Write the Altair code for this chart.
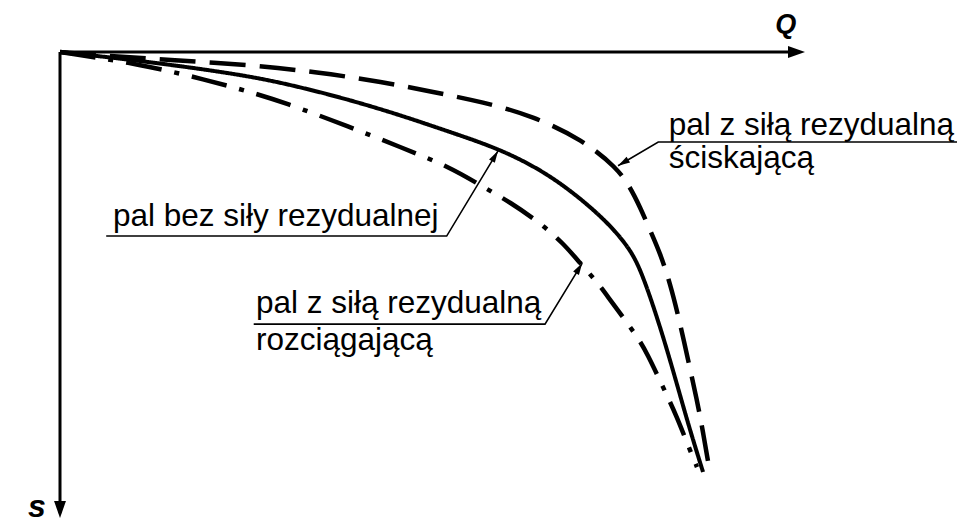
import altair as alt
import pandas as pd

# ---------------- data (chart units: Q horizontal, s vertical/downward) ----------------
solid_Q = [0, 6.31, 15.17, 25.50, 32.21, 38.93, 45.64, 52.35, 59.06, 65.10, 69.80, 73.42,
           76.11, 77.85, 80.27, 81.88, 83.22, 84.56, 86.31]
solid_s = [0, 1.07, 2.79, 5.15, 7.51, 10.30, 13.52, 17.17, 20.82, 25.75, 31.33, 36.48,
           41.42, 46.14, 57.51, 66.09, 73.61, 81.12, 90.13]

dashed_Q = [0, 6.31, 15.17, 25.50, 34.50, 43.36, 50.07, 56.78, 63.49, 70.20, 74.77, 76.51,
            77.85, 79.19, 80.54, 81.88, 83.22, 84.30, 85.50, 86.31, 87.11]
dashed_s = [0, 0.86, 1.72, 2.79, 4.29, 6.44, 8.58, 10.73, 13.73, 18.88, 24.89, 28.97,
            33.26, 38.20, 43.13, 49.57, 58.15, 66.09, 74.68, 81.55, 89.06]

dashdot_Q = [0, 10.74, 19.73, 25.50, 29.93, 38.93, 45.64, 52.35, 56.78, 60.40, 64.43,
             67.52, 69.80, 72.08, 73.56, 75.84, 77.58, 78.79, 80.94, 82.82, 84.16, 85.50]
dashdot_s = [0, 2.58, 6.01, 8.58, 10.73, 16.09, 20.39, 24.68, 28.97, 32.19, 36.70,
             40.99, 45.28, 49.36, 52.58, 57.51, 61.37, 64.59, 71.89, 78.33, 83.91, 89.06]

# annotation texts
label_texts = ["pal bez siły rezydualnej",
               "pal z siłą rezydualną", "ściskającą",
               "pal z siłą rezydualną", "rozciągającą"]
label_Q = [7.1, 81.7, 81.7, 26.3, 26.3]
label_s = [37.3, 17.8, 24.9, 56.0, 63.9]

# leader polylines (id, Q, s)
leader_id = [1, 1, 1, 2, 2, 2, 3, 3, 3]
leader_Q = [6.2, 51.9, 58.8, 120.4, 80.3, 74.9, 26.0, 65.1, 70.1]
leader_s = [39.5, 39.5, 21.2, 19.3, 19.3, 24.4, 58.4, 58.4, 45.3]
arrow_Q = [58.8, 74.9, 70.1]
arrow_s = [21.2, 24.4, 45.3]
arrow_angle = [30.7, 239.0, 31.2]

# axes
axis_names = ["Q", "s"]
axis_end_Q = [99.0, 0.0]
axis_end_s = [0.0, 99.0]
axis_tip_Q = [100.0, 0.0]
axis_tip_s = [0.0, 100.0]
axis_tip_angle = [90, 180]
axis_label_Q = [97.4, -3.1]
axis_label_s = [-4.1, 99.8]
axis_label_size = [27, 32]

# ---------------- layout ----------------
W, H = 954, 520
Q_MIN, Q_MAX = -6.98, 121.07
S_MIN, S_MAX = -9.442, 102.146
FONT = "Liberation Sans"

xs = alt.Scale(domain=[Q_MIN, Q_MAX], nice=False, zero=False)
ys = alt.Scale(domain=[S_MIN, S_MAX], nice=False, zero=False, reverse=True)


def X(f="Q"):
    return alt.X(f"{f}:Q", scale=xs, axis=None)


def Y(f="s"):
    return alt.Y(f"{f}:Q", scale=ys, axis=None)


def curve(Qv, sv, dash, width):
    df = pd.DataFrame({"Q": Qv, "s": sv, "o": list(range(len(Qv)))})
    return alt.Chart(df).mark_line(
        color="black", strokeWidth=width, strokeDash=dash, interpolate="basis",
        strokeCap="butt"
    ).encode(x=X(), y=Y(), order="o:Q")


solid = curve(solid_Q, solid_s, [1, 0], 4)
dashed = curve(dashed_Q, dashed_s, [36, 14], 4.5)
dashdot = curve(dashdot_Q, dashdot_s, [36, 13, 5, 13], 4.5)

# axes lines
ax_df = pd.DataFrame({"name": axis_names, "Q": [0, 0], "s": [0, 0],
                      "Q2": axis_end_Q, "s2": axis_end_s})
axes = alt.Chart(ax_df).mark_rule(color="black", strokeWidth=3).encode(
    x=X(), y=Y(), x2="Q2:Q", y2="s2:Q")

tip_df = pd.DataFrame({"Q": axis_tip_Q, "s": axis_tip_s, "ang": axis_tip_angle})
tips = alt.Chart(tip_df).mark_point(
    shape="M0,0L-0.35,1L0.35,1Z", filled=True, size=1156, color="black", opacity=1,
    strokeWidth=0
).encode(x=X(), y=Y(), angle=alt.Angle("ang:Q", scale=None))

axl_df = pd.DataFrame({"t": axis_names, "Q": axis_label_Q, "s": axis_label_s,
                       "fs": axis_label_size})
axis_labels = alt.Chart(axl_df).mark_text(
    font=FONT, fontWeight="bold", fontStyle="italic", align="center",
    baseline="alphabetic", color="black"
).encode(x=X(), y=Y(), text="t:N", size=alt.Size("fs:Q", scale=None))

# leaders
ld_df = pd.DataFrame({"id": leader_id, "Q": leader_Q, "s": leader_s,
                      "o": list(range(len(leader_id)))})
leaders = alt.Chart(ld_df).mark_line(color="black", strokeWidth=1.6).encode(
    x=X(), y=Y(), detail="id:N", order="o:Q")

ar_df = pd.DataFrame({"Q": arrow_Q, "s": arrow_s, "ang": arrow_angle})
arrows = alt.Chart(ar_df).mark_point(
    shape="M0,0L-0.28,1L0.28,1Z", filled=True, size=576, color="black", opacity=1,
    strokeWidth=0
).encode(x=X(), y=Y(), angle=alt.Angle("ang:Q", scale=None))

lab_df = pd.DataFrame({"t": label_texts, "Q": label_Q, "s": label_s})
labels = alt.Chart(lab_df).mark_text(
    font=FONT, fontSize=31.5, align="left", baseline="alphabetic", color="black"
).encode(x=X(), y=Y(), text="t:N")

chart = alt.layer(
    dashdot, dashed, solid, axes, tips, leaders, arrows, labels, axis_labels
).properties(
    width=W, height=H, padding=0, background="white",
    autosize=alt.AutoSizeParams(type="none")
).configure_view(stroke=None)

chart.save("out.html", embed_options={"renderer": "svg", "actions": False})
